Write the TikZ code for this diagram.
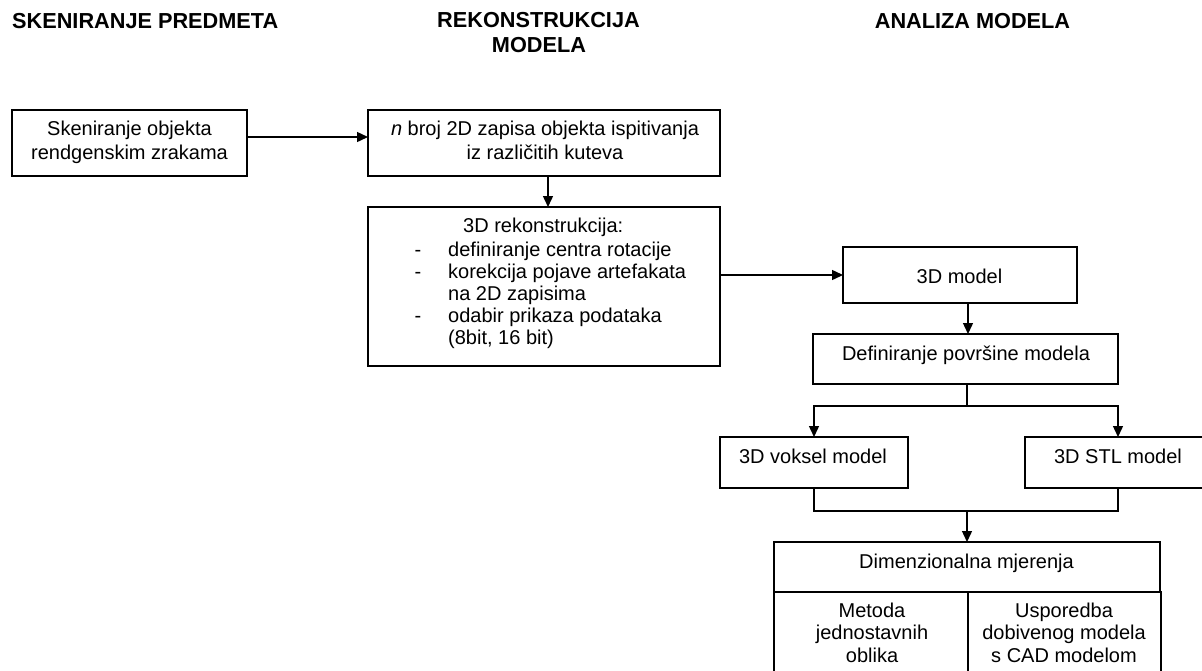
\documentclass[tikz,border=0pt]{standalone}
\usepackage{fontspec}
\setmainfont{Liberation Sans}
\usetikzlibrary{arrows.meta,calc}
\begin{document}
\begin{tikzpicture}[x=1pt,y=-1pt,
  box/.style={draw=black, line width=1.4pt, rectangle, inner sep=0pt, outer sep=0pt},
  txt/.style={anchor=base, inner sep=0pt, font=\fontsize{20}{24}\selectfont},
  txtl/.style={anchor=base west, inner sep=0pt, font=\fontsize{20}{24}\selectfont},
  head/.style={anchor=base, inner sep=0pt, font=\fontsize{21.7}{27}\selectfont\bfseries},
  conn/.style={draw=black, line width=1.4pt},
  arr/.style={conn, -{Triangle[length=11pt,width=10pt]}}
]
\clip (0,0) rectangle (1202,670);
\fill[white] (0,0) rectangle (1202,670);

% headers
\node[head, anchor=base west] (h1) at (12,28) {SKENIRANJE PREDMETA};
\node[head] (h2a) at (538.5,27) {REKONSTRUKCIJA};
\node[head] (h2b) at (539,52) {MODELA};
\node[head] (h3) at (972.5,28) {ANALIZA MODELA};

% boxes
\node[box, minimum width=235pt, minimum height=66pt] (A) at (129.5,143) {};
\node[box, minimum width=352pt, minimum height=66pt] (B) at (544,143) {};
\node[box, minimum width=352pt, minimum height=159pt] (C) at (544,286.5) {};
\node[box, minimum width=234pt, minimum height=56pt] (D) at (960,275) {};
\node[box, minimum width=305pt, minimum height=50pt] (E) at (965.5,359) {};
\node[box, minimum width=188pt, minimum height=51pt] (F) at (814,462.5) {};
\node[box, minimum width=186pt, minimum height=51pt] (G) at (1118,462.5) {};
\node[box, minimum width=386pt, minimum height=50pt] (H) at (967,567) {};
\node[box, minimum width=194pt, minimum height=108pt] (H1) at (871,646) {};
\node[box, minimum width=193pt, minimum height=108pt] (H2) at (1064.5,646) {};

% texts
\node[txt] (ta1) at (129.5,135) {Skeniranje objekta};
\node[txt] (ta2) at (129.5,159) {rendgenskim zrakama};
\node[txt] (tb1) at (545,135) {\textit{n} broj 2D zapisa objekta ispitivanja};
\node[txt] (tb2) at (545,159) {iz različitih kuteva};
\node[txtl] (tc0) at (463,232) {3D rekonstrukcija:};
\node[txt] (dc1) at (418,256) {-};
\node[txtl] (tc1) at (448,256) {definiranje centra rotacije};
\node[txt] (dc2) at (418,278) {-};
\node[txtl] (tc2) at (448,278) {korekcija pojave artefakata};
\node[txtl] (tc3) at (448,300) {na 2D zapisima};
\node[txt] (dc4) at (418,322) {-};
\node[txtl] (tc4) at (448,322) {odabir prikaza podataka};
\node[txtl] (tc5) at (448,344) {(8bit, 16 bit)};
\node[txt] (td) at (959.5,283) {3D model};
\node[txt] (te) at (966,360) {Definiranje površine modela};
\node[txt] (tf) at (813,463) {3D voksel model};
\node[txt] (tg) at (1118,463) {3D STL model};
\node[txt] (th) at (966.5,568) {Dimenzionalna mjerenja};
\node[txt] (th11) at (872,617) {Metoda};
\node[txt] (th12) at (872,639) {jednostavnih};
\node[txt] (th13) at (872,662) {oblika};
\node[txt] (th21) at (1064,617) {Usporedba};
\node[txt] (th22) at (1064,639) {dobivenog modela};
\node[txt] (th23) at (1064,662) {s CAD modelom};

% connectors
\draw[arr] ($(A.east)+(0,-6)$) -- ($(B.west)+(0,-6)$);
\draw[arr] ($(B.south)+(4,0)$) -- ($(C.north)+(4,0)$);
\draw[arr] (C.east |- D.west) -- (D.west);
\draw[arr] ($(D.south)+(8,0)$) -- ($(E.north)+(2.5,0)$);
\draw[conn] ($(E.south)+(1.5,0)$) -- ++(0,22) coordinate (j1);
\draw[arr] (j1) -| (F.north);
\draw[arr] (j1) -| (G.north);
\draw[conn] (F.south) -- ++(0,23) coordinate (j2) -| (G.south);
\draw[arr] (j2 -| H.north) -- (H.north);
\end{tikzpicture}
\end{document}
